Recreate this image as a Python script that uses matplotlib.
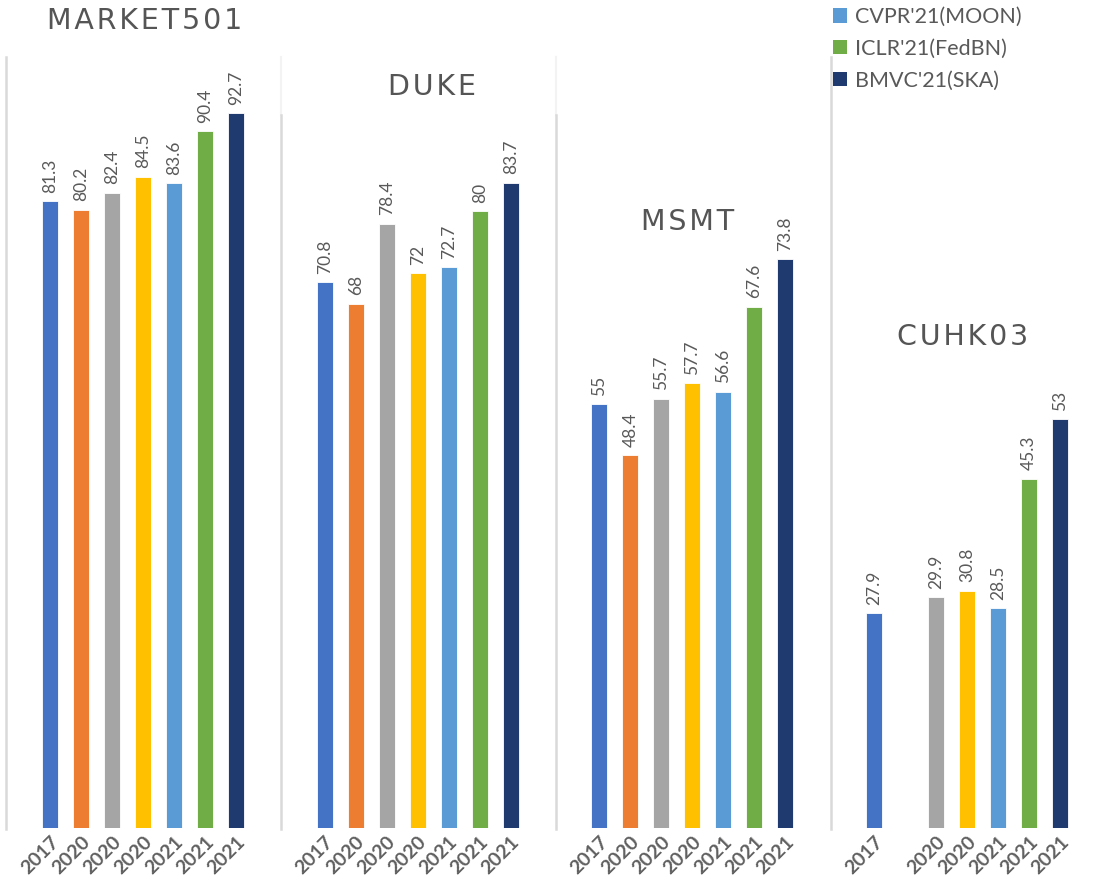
import matplotlib
matplotlib.use("Agg")
import matplotlib.pyplot as plt
from matplotlib.patches import Patch
from matplotlib.lines import Line2D

# ---------------- data ----------------
datasets = ["MARKET501", "DUKE", "MSMT", "CUHK03"]
years = ["2017", "2020", "2020", "2020", "2021", "2021", "2021"]
market = [81.3, 80.2, 82.4, 84.5, 83.6, 90.4, 92.7]
duke = [70.8, 68, 78.4, 72, 72.7, 80, 83.7]
msmt = [55, 48.4, 55.7, 57.7, 56.6, 67.6, 73.8]
cuhk03 = [27.9, None, 29.9, 30.8, 28.5, 45.3, 53]
legend_labels = ["CVPR'21(MOON)", "ICLR'21(FedBN)", "BMVC'21(SKA)"]

# ---------------- style ----------------
colors = ["#4472C4", "#ED7D31", "#A5A5A5", "#FFC000", "#5B9BD5", "#70AD47", "#1F3A6E"]
legend_colors = colors[4:]
txt = "#595959"
W, H = 1102, 882
fig = plt.figure(figsize=(W / 100, H / 100), dpi=100)

panel_w = 274.7
left0 = 7
bottom_px = 828
top_px = 57
title_px = [(145, 21), (432, 87), (688, 222), (963, 337)]
series = [market, duke, msmt, cuhk03]

def fx(px):
    return px / W

def fy(py):
    return 1 - py / H

for i, (name, vals) in enumerate(zip(datasets, series)):
    l = left0 + panel_w * i
    ax = fig.add_axes([fx(l), fy(bottom_px), panel_w / W, (bottom_px - top_px) / H])
    ax.set_xlim(-43 / 31, panel_w / 31 - 43 / 31)
    ax.set_ylim(0, 100)
    for s in ax.spines.values():
        s.set_visible(False)
    ax.set_yticks([])
    xs = [k for k, v in enumerate(vals) if v is not None]
    hs = [v for v in vals if v is not None]
    cs = [colors[k] for k in xs]
    ax.bar(xs, hs, width=0.52, color=cs, edgecolor="white", linewidth=0.6)
    for x, h in zip(xs, hs):
        ax.annotate(f"{h:g}", (x, h), xytext=(0, 6), textcoords="offset points",
                    rotation=90, ha="center", va="bottom", fontsize=12.5,
                    color=txt, family="Lato")
    ax.set_xticks(xs)
    ax.set_xticklabels([years[k] for k in xs], rotation=45, ha="right", va="top",
                       rotation_mode="anchor", fontsize=14, fontweight="bold",
                       color="#606060", family="Lato")
    ax.tick_params(axis="x", length=0, pad=4)
    tx, ty = title_px[i]
    fig.text(fx(tx), fy(ty), "\u200a".join(name), ha="center", va="center",
             fontsize=20.5, color="#555555", family="DejaVu Sans")

# separator lines
line_col = "#D9D9D9"
faint = "#F3F3F3"
xs_lines = [6, 281, 556, 831]
for k, xl in enumerate(xs_lines):
    if k in (1, 2):
        fig.add_artist(Line2D([fx(xl), fx(xl)], [fy(57), fy(115)], color=faint, lw=1.5))
        fig.add_artist(Line2D([fx(xl), fx(xl)], [fy(115), fy(829)], color=line_col, lw=1.8))
    else:
        fig.add_artist(Line2D([fx(xl), fx(xl)], [fy(57), fy(829)], color=line_col, lw=1.8))

handles = [Patch(facecolor=c, edgecolor="none") for c in legend_colors]
fig.legend(handles, legend_labels, loc="upper left", bbox_to_anchor=(fx(833), fy(7)),
           frameon=False, labelcolor=txt, handlelength=0.65,
           handleheight=0.65, handletextpad=0.35, labelspacing=0.55, borderpad=0,
           borderaxespad=0, prop={"family": "Lato", "size": 15.5})

fig.savefig("out.png", dpi=100, facecolor="white")
